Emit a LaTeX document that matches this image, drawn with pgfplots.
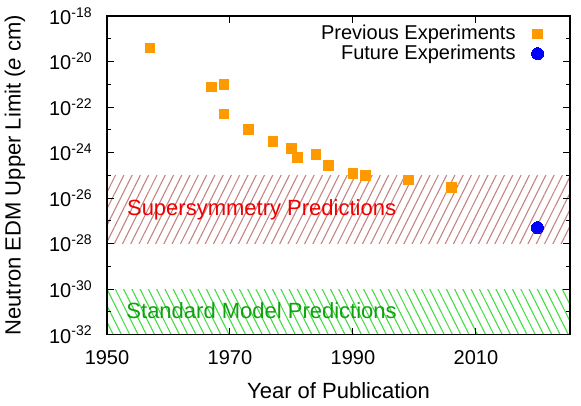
\documentclass[border=0pt]{standalone}
\usepackage{fontspec}
\setmainfont{Liberation Sans}
\usepackage{pgfplots}
\pgfplotsset{compat=1.18}
\usetikzlibrary{patterns.meta}
\definecolor{sorange}{HTML}{FF9900}
\definecolor{sblue}{HTML}{0000FF}
\definecolor{hbrown}{HTML}{C48484}
\definecolor{hgreen}{HTML}{44DD44}
\definecolor{tred}{HTML}{EE0000}
\definecolor{tgreen}{HTML}{11A011}
\begin{document}
\begin{tikzpicture}
\begin{axis}[
  scale only axis, width=231.5pt, height=159.3pt,
  ymode=log, xmin=1950, xmax=2025.3, ymin=1e-32, ymax=1e-18,
  xtick={1950,1970,1990,2010}, xticklabels={1950,1970,1990,2010},
  ytick={1e-32,1e-30,1e-28,1e-26,1e-24,1e-22,1e-20,1e-18},
  yticklabels={10\textsuperscript{-32},10\textsuperscript{-30},10\textsuperscript{-28},10\textsuperscript{-26},10\textsuperscript{-24},10\textsuperscript{-22},10\textsuperscript{-20},10\textsuperscript{-18}},
  minor ytick={1e-31,1e-29,1e-27,1e-25,1e-23,1e-21,1e-19},
  tick align=inside, major tick length=3.5pt, minor tick length=2pt,
  axis line style={line width=0.6pt},
  tick style={black, line width=0.5pt},
  axis on top,
  xticklabel style={inner sep=0pt, yshift=-7.6pt},
  yticklabel style={inner sep=0pt, xshift=-7pt},
  xlabel={Year of Publication},
  ylabel={Neutron EDM Upper Limit (\textit{e} cm)},
  xlabel style={at={(axis description cs:0.5,-0.1507)}, anchor=north, inner sep=0pt, font=\fontsize{11}{13}\selectfont},
  ylabel style={at={(axis description cs:-0.222,0.5)}, anchor=north, inner sep=0pt, font=\fontsize{11}{13}\selectfont},
  legend style={draw=none, fill=none, at={(axis description cs:1,1)}, anchor=north east, xshift=-10pt, yshift=-0.5pt, row sep=-3pt, column sep=6pt},
  legend cell align=right,
  legend plot pos=right,
]
\addplot[draw=none, forget plot, pattern={Lines[angle=63.4, distance=3.7pt, line width=0.55pt]}, pattern color=hbrown]
  coordinates {(1950,1e-28) (2025.3,1e-28) (2025.3,1e-25) (1950,1e-25)} -- cycle;
\addplot[draw=none, forget plot, pattern={Lines[angle=-63.4, distance=3.7pt, line width=0.55pt]}, pattern color=hgreen]
  coordinates {(1950,1e-32) (2025.3,1e-32) (2025.3,1e-30) (1950,1e-30)} -- cycle;
\node[anchor=base west, text=tred, inner sep=0pt, font=\fontsize{11}{13}\selectfont] at (axis cs:1953.2,1.66e-27) {Supersymmetry Predictions};
\node[anchor=base west, text=tgreen, inner sep=0pt, font=\fontsize{11}{13}\selectfont] at (axis cs:1953.1,4.9e-32) {Standard Model Predictions};
\addplot[only marks, mark=square*, mark size=2.4pt, mark options={fill=sorange, draw=sorange, line width=0pt}]
  coordinates {
  (1957,4e-20) (1967,7.5e-22) (1969,9.5e-22) (1969,5e-23) (1973,1e-23)
  (1977,3e-24) (1980,1.55e-24) (1981,6e-25) (1984,8e-25) (1986,2.7e-25)
  (1990,1.2e-25) (1992,1e-25) (1999,6.3e-26) (2006,3e-26)};
\addlegendentry{Previous Experiments}
\addplot[only marks, mark=*, mark size=3pt, mark options={fill=sblue, draw=sblue, line width=0pt}]
  coordinates {(2020,5e-28)};
\addlegendentry{Future Experiments}
\end{axis}
\path (current axis.north east) ++(5.5pt,8pt) coordinate (tr);
\path (current axis.south west) ++(-53.5pt,-35.65pt) rectangle (tr);
\end{tikzpicture}
\end{document}
